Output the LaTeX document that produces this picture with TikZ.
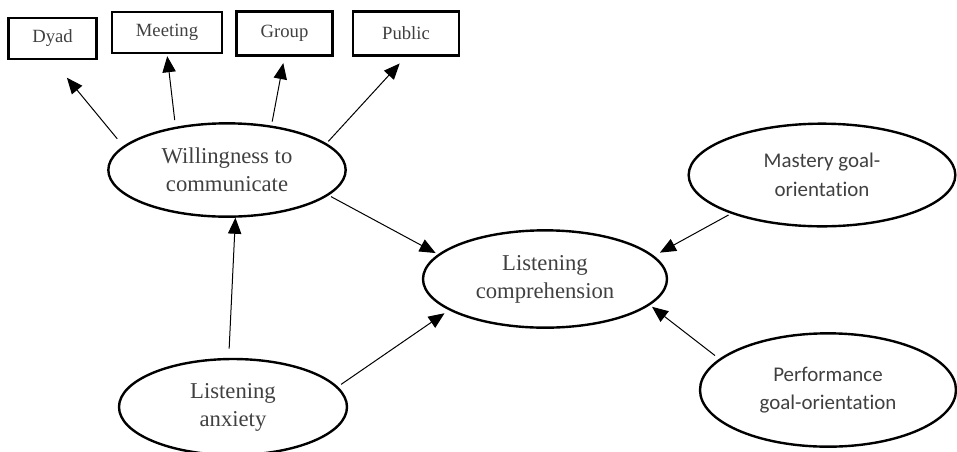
\documentclass[tikz,border=0pt]{standalone}
\usepackage{fontspec}
\setmainfont{Liberation Serif}
\newfontfamily\calibri[Ligatures=NoCommon]{Carlito}
\usetikzlibrary{shapes.geometric,arrows.meta}

\definecolor{labelgray}{HTML}{404040}

\tikzset{
  box/.style={draw, line width=1.6pt, inner sep=0pt, text=labelgray, font=\fontsize{14}{16}\selectfont},
  latent/.style={draw, ellipse, line width=1.8pt, inner sep=0pt, align=center, text=labelgray, font=\fontsize{17}{21}\selectfont},
  latentsans/.style={latent, font=\calibri\fontsize{15.7}{21.5}\selectfont},
  path/.style={-{Triangle[length=12pt,width=10pt]}, line width=0.75pt},
}

\begin{document}
\begin{tikzpicture}[x=0.75pt, y=-0.75pt]
\useasboundingbox (0,0) rectangle (957,451);

% indicators
\node[box, minimum width=66pt, minimum height=31pt] (dyad) at (52.5,38.5) {Dyad};
\node[box, minimum width=83pt, minimum height=31pt] (meeting) at (167,32.5) {Meeting};
\node[box, minimum width=72pt, minimum height=33pt] (group) at (284.5,33.5) {Group};
\node[box, minimum width=80pt, minimum height=33pt] (public) at (406,33.5) {Public};

% latent variables
\node[latent, minimum width=178pt, minimum height=70pt] (wtc) at (227,170) {Willingness to\\communicate};
\node[latent, minimum width=183pt, minimum height=73pt] (lc) at (545,279) {\fontsize{17}{20}\selectfont Listening\\comprehension};
\node[latent, minimum width=171pt, minimum height=72pt] (anx) at (233,407) {Listening\\anxiety};
\node[latentsans, minimum width=200pt, minimum height=77pt] (mgo) at (822,175) {Mastery goal-\\orientation};
\node[latentsans, minimum width=192pt, minimum height=85pt] (pgo) at (828,390) {Performance\\goal-orientation};

% paths
\draw[path, shorten <=7pt, shorten >=17pt] (wtc.167) -- (dyad.south);
\draw[path, shorten <=5pt, shorten >=1.5pt] (wtc.140) -- (meeting.south);
\draw[path, shorten <=3pt, shorten >=5pt] (wtc.45) -- (group.south);
\draw[path, shorten <=2pt, shorten >=7pt] (wtc.15) -- (public.south);
\draw[path, shorten <=2pt, shorten >=2pt] (wtc.-14) -- (lc.167);
\draw[path, shorten <=7pt] (anx.95) -- (wtc.-80);
\draw[path, shorten <=3pt, shorten >=4pt] (anx.11) -- (lc.198);
\draw[path, shorten <=2pt, shorten >=5pt] (mgo.203) -- (lc.12);
\draw[path, shorten <=4pt, shorten >=2pt] (pgo.164) -- (lc.-14);
\end{tikzpicture}
\end{document}
